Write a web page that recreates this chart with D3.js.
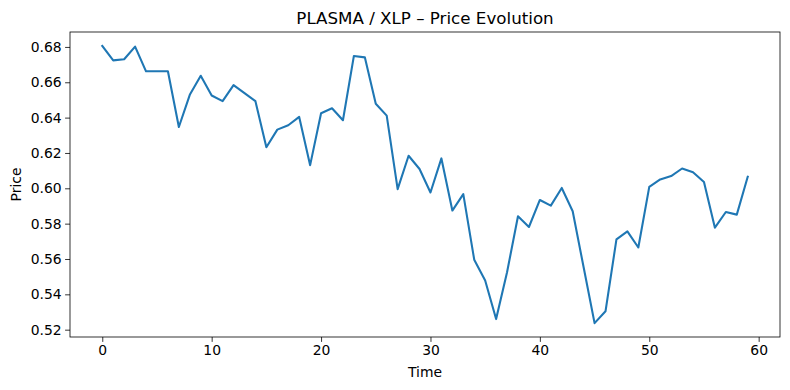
<!DOCTYPE html>
<html>
<head>
<meta charset="utf-8">
<script src="https://cdn.jsdelivr.net/npm/d3@7"></script>
<style>
  html, body { margin: 0; padding: 0; background: #fff; }
  svg text { font-family: "DejaVu Sans", sans-serif; fill: #000; }
</style>
</head>
<body>
<svg id="chart" width="790" height="390"></svg>
<script>
const title = "PLASMA / XLP – Price Evolution";
const xLabel = "Time";
const yLabel = "Price";
const xTicks = [0, 10, 20, 30, 40, 50, 60];
const yTicks = [0.52, 0.54, 0.56, 0.58, 0.60, 0.62, 0.64, 0.66, 0.68];
const prices = [
  0.6806, 0.6724, 0.6730, 0.6802, 0.6662, 0.6662, 0.6662, 0.6347, 0.6529, 0.6637,
  0.6525, 0.6493, 0.6584, 0.6539, 0.6493, 0.6232, 0.6332, 0.6357, 0.6404, 0.6131,
  0.6425, 0.6453, 0.6385, 0.6749, 0.6741, 0.6478, 0.6411, 0.5995, 0.6184, 0.6109,
  0.5976, 0.6169, 0.5874, 0.5967, 0.5596, 0.5478, 0.5260, 0.5525, 0.5842, 0.5781,
  0.5934, 0.5902, 0.6002, 0.5870, 0.5553, 0.5237, 0.5304, 0.5711, 0.5756, 0.5665,
  0.6008, 0.6050, 0.6069, 0.6112, 0.6091, 0.6036, 0.5777, 0.5866, 0.5851, 0.6065
];
const times = prices.map((_, i) => i);

const svg = d3.select("#chart");
const m = { left: 70, right: 10, top: 32, bottom: 53 };
const W = 790, H = 390;
const pw = W - m.left - m.right, ph = H - m.top - m.bottom;

const xmin = d3.min(times), xmax = d3.max(times);
const xpad = (xmax - xmin) * 0.05;
const ymin = d3.min(prices), ymax = d3.max(prices);
const ypad = (ymax - ymin) * 0.05;

const x = d3.scaleLinear().domain([xmin - xpad, xmax + xpad]).range([m.left, m.left + pw]);
const y = d3.scaleLinear().domain([ymin - ypad, ymax + ypad]).range([m.top + ph, m.top]);

const xAxis = svg.append("g")
  .attr("transform", `translate(0,${m.top + ph})`)
  .call(d3.axisBottom(x).tickValues(xTicks).tickFormat(d3.format("d")).tickSize(4.9).tickPadding(3.5));
const yAxis = svg.append("g")
  .attr("transform", `translate(${m.left},0)`)
  .call(d3.axisLeft(y).tickValues(yTicks).tickFormat(d3.format(".2f")).tickSize(4.9).tickPadding(3.5));

[xAxis, yAxis].forEach(g => {
  g.select(".domain").remove();
  g.selectAll(".tick line").attr("stroke", "#000").attr("stroke-width", 0.8);
  g.selectAll(".tick text").style("font-size", "13.9px").attr("fill", "#000");
});
xAxis.selectAll(".tick text").attr("dy", "0.71em");

const line = d3.line().x((d, i) => x(times[i])).y(d => y(d));
svg.append("path")
  .datum(prices)
  .attr("fill", "none")
  .attr("stroke", "#1f77b4")
  .attr("stroke-width", 2.08)
  .attr("stroke-linejoin", "round")
  .attr("stroke-linecap", "square")
  .attr("d", line);

svg.append("rect")
  .attr("x", m.left).attr("y", m.top)
  .attr("width", pw).attr("height", ph)
  .attr("fill", "none").attr("stroke", "#000").attr("stroke-width", 0.8);

svg.append("text")
  .attr("x", m.left + pw / 2).attr("y", m.top - 8.3)
  .attr("text-anchor", "middle")
  .style("font-size", "16.7px")
  .text(title);

svg.append("text")
  .attr("x", m.left + pw / 2).attr("y", m.top + ph + 40)
  .attr("text-anchor", "middle")
  .style("font-size", "13.9px")
  .text(xLabel);

svg.append("text")
  .attr("transform", `translate(21,${m.top + ph / 2}) rotate(-90)`)
  .attr("text-anchor", "middle")
  .style("font-size", "13.9px")
  .text(yLabel);
</script>
</body>
</html>
